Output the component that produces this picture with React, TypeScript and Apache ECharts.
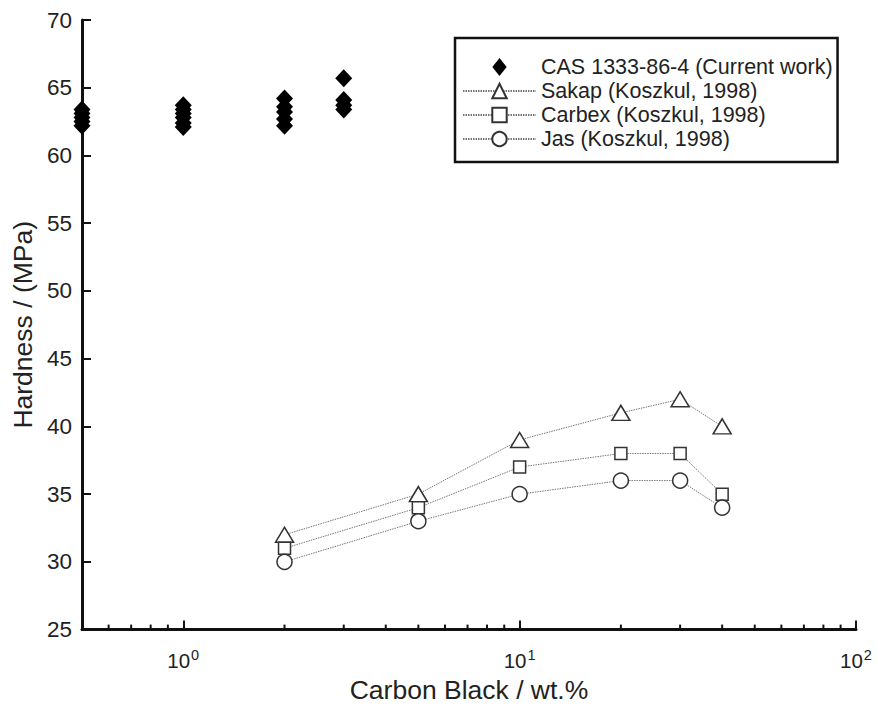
import React, { useEffect, useRef } from "react";
import * as echarts from "echarts";

const casX = [0.5, 0.5, 0.5, 0.5, 0.5, 1, 1, 1, 1, 1, 1, 2, 2, 2, 2, 2, 3, 3, 3, 3];
const casY = [62.2, 62.5, 62.8, 63.1, 63.4, 62.1, 62.4, 62.8, 63.1, 63.4, 63.7, 62.2, 62.7, 63.2, 63.6, 64.2, 63.4, 63.7, 64.1, 65.7];

const kosX = [2, 5, 10, 20, 30, 40];
const sakapY = [32, 35, 39, 41, 42, 40];
const carbexY = [31, 34, 37, 38, 38, 35];
const jasY = [30, 33, 35, 36, 36, 34];

const minorTicks = [0.6, 0.7, 0.8, 0.9, 2, 3, 4, 5, 6, 7, 8, 9, 20, 30, 40, 50, 60, 70, 80, 90];

const seriesNames = [
  "CAS 1333-86-4 (Current work)",
  "Sakap (Koszkul, 1998)",
  "Carbex (Koszkul, 1998)",
  "Jas (Koszkul, 1998)",
];

const FONT = "Liberation Sans, Arial, sans-serif";
const TXT = "#222";
const DIAMOND_ICON = "path://M0,0 L0.01,0 M73,20 L72.99,20 M36.5,0 L44.5,10 L36.5,20 L28.5,10 Z";

export default function App() {
  const ref = useRef<HTMLDivElement>(null);
  useEffect(() => {
    if (!ref.current) return;
    const chart = echarts.init(ref.current, null, { renderer: "svg" });
    const pair = (xs: number[], ys: number[]) => xs.map((x, i) => [x, ys[i]]);
    const lineStyle = { color: "#777", width: 1, type: [1.5, 1] as any };
    const openItem = { color: "#fff", borderColor: "#333", borderWidth: 1.5 };
    chart.setOption({
      animation: false,
      backgroundColor: "#fff",
      textStyle: { fontFamily: FONT, color: TXT },
      grid: { left: 82, right: 21, top: 20, bottom: 76 },
      legend: {
        orient: "vertical",
        left: 455,
        top: 38,
        padding: [18, 5, 12, 7],
        itemGap: 2,
        itemWidth: 73,
        itemHeight: 18,
        backgroundColor: "#fff",
        borderColor: "#111",
        borderWidth: 2.5,
        textStyle: { fontSize: 21.5, color: TXT, fontFamily: FONT },
        data: [
          { name: seriesNames[0], icon: DIAMOND_ICON, itemStyle: { color: "#000", opacity: 1 } },
          seriesNames[1],
          seriesNames[2],
          seriesNames[3],
        ],
      },
      xAxis: {
        type: "log",
        logBase: 10,
        min: 0.5,
        max: 100,
        name: "Carbon Black / wt.%",
        nameLocation: "middle",
        nameGap: 44,
        nameTextStyle: { fontSize: 26.5, color: TXT, fontFamily: FONT },
        axisLine: { lineStyle: { color: "#111", width: 3 } },
        axisTick: { inside: true, length: 9, lineStyle: { color: "#111", width: 2 } },
        splitLine: { show: false },
        minorTick: { show: false },
        axisLabel: {
          margin: 18,
          color: TXT,
          fontSize: 20.5,
          fontFamily: FONT,
          formatter: (v: number) => {
            const e = Math.log10(v);
            if (Math.abs(e - Math.round(e)) > 1e-6) return "";
            return `{b|10}{s|${Math.round(e)}}`;
          },
          rich: {
            b: { fontSize: 20.5, color: TXT, fontFamily: FONT },
            s: { fontSize: 14.5, color: TXT, fontFamily: FONT, padding: [0, 0, 11, 1] },
          },
        },
      },
      yAxis: {
        type: "value",
        min: 25,
        max: 70,
        interval: 5,
        name: "Hardness / (MPa)",
        nameLocation: "middle",
        nameGap: 42,
        nameTextStyle: { fontSize: 26.5, color: TXT, fontFamily: FONT },
        axisLine: { show: true, lineStyle: { color: "#111", width: 3 } },
        axisTick: { show: true, inside: true, length: 9, lineStyle: { color: "#111", width: 2 } },
        splitLine: { show: false },
        axisLabel: { margin: 10, color: TXT, fontSize: 22.5, fontFamily: FONT },
      },
      series: [
        {
          name: seriesNames[0],
          type: "scatter",
          symbol: "diamond",
          symbolSize: [17, 18],
          itemStyle: { color: "#000", opacity: 1 },
          data: pair(casX, casY),
          z: 5,
        },
        {
          name: seriesNames[1],
          type: "line",
          symbol: "triangle",
          symbolSize: [18, 15],
          lineStyle,
          itemStyle: openItem,
          data: pair(kosX, sakapY),
        },
        {
          name: seriesNames[2],
          type: "line",
          symbol: "rect",
          symbolSize: 12,
          lineStyle,
          itemStyle: openItem,
          data: pair(kosX, carbexY),
        },
        {
          name: seriesNames[3],
          type: "line",
          symbol: "circle",
          symbolSize: 15,
          lineStyle,
          itemStyle: openItem,
          data: pair(kosX, jasY),
        },
        {
          name: "minorTicks",
          type: "custom",
          silent: true,
          clip: false,
          data: minorTicks.map((v) => [v, 25]),
          renderItem: (params: any, api: any) => {
            const p = api.coord([api.value(0), api.value(1)]);
            return {
              type: "line",
              shape: { x1: p[0], y1: p[1], x2: p[0], y2: p[1] - 5 },
              style: { stroke: "#111", lineWidth: 2 },
            };
          },
          z: 1,
        },
      ],
    });
    return () => chart.dispose();
  }, []);
  return <div ref={ref} style={{ width: 877, height: 708, position: "absolute", left: 0, top: 0 }} />;
}
